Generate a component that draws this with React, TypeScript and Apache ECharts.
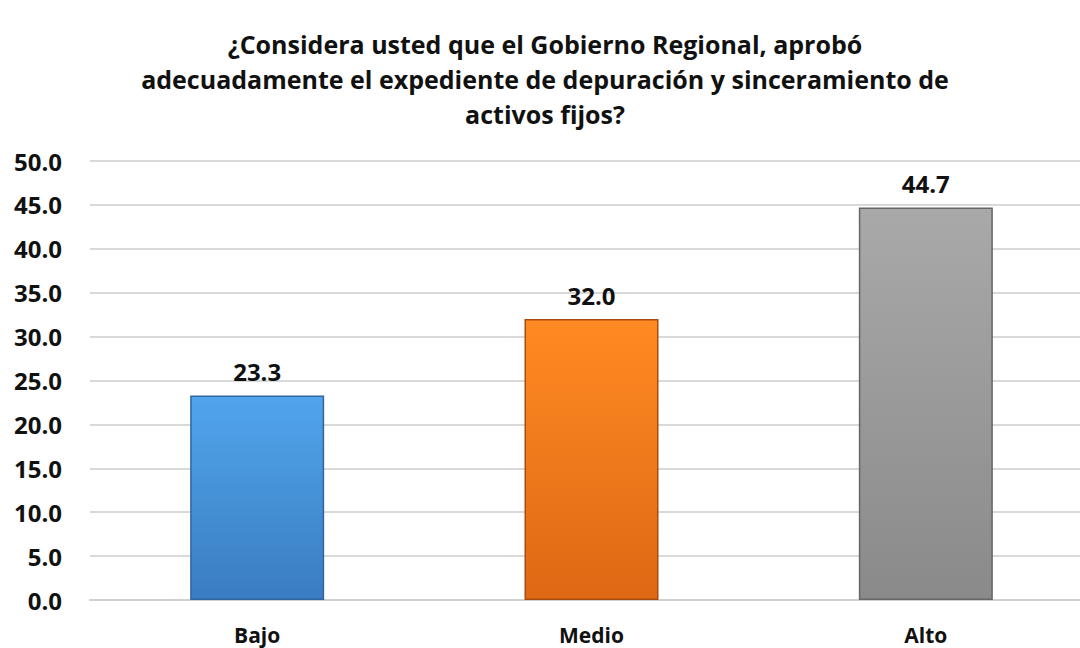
import React, { useEffect, useRef } from "react";
import * as echarts from "echarts";

const titleText =
  "¿Considera usted que el Gobierno Regional, aprobó\nadecuadamente el expediente de depuración y sinceramiento de\nactivos fijos?";
const categories = ["Bajo", "Medio", "Alto"];
const values = [23.3, 32.0, 44.7];
const barColors = [
  { top: "#51a5ec", bottom: "#3a7cc1", edge: "#2f669f" },
  { top: "#ff8a22", bottom: "#de6814", edge: "#a94c0c" },
  { top: "#a9a9a9", bottom: "#8a8a8a", edge: "#666666" },
];
const yTicks = { min: 0, max: 50, interval: 5 };

export default function App() {
  const ref = useRef<HTMLDivElement>(null);
  useEffect(() => {
    if (!ref.current) return;
    const chart = echarts.init(ref.current, null, { renderer: "svg" });
    const font = "'Open Sans', 'Noto Sans', sans-serif";
    chart.setOption({
      animation: false,
      backgroundColor: "#ffffff",
      title: {
        text: titleText,
        left: 540,
        textAlign: "center",
        top: 21,
        textStyle: {
          fontFamily: font,
          fontWeight: "bold",
          fontSize: 25,
          lineHeight: 35,
          color: "#111111",
        },
      },
      grid: { left: 90, top: 161, width: 1003, height: 439, containLabel: false },
      xAxis: {
        type: "category",
        data: categories,
        axisLine: { lineStyle: { color: "#d0d0d0", width: 2 } },
        axisTick: { show: false },
        axisLabel: {
          margin: 24,
          fontFamily: font,
          fontWeight: "bold",
          fontSize: 21,
          lineHeight: 21,
          color: "#111111",
        },
      },
      yAxis: {
        type: "value",
        min: yTicks.min,
        max: yTicks.max,
        interval: yTicks.interval,
        axisLine: { show: false },
        axisTick: { show: false },
        splitLine: { lineStyle: { color: "#d9d9d9", width: 2 } },
        axisLabel: {
          margin: 28,
          formatter: (v: number) => v.toFixed(1),
          fontFamily: font,
          fontWeight: "bold",
          fontSize: 24,
          color: "#111111",
        },
      },
      series: [
        {
          type: "bar",
          barWidth: 134,
          data: values.map((v, i) => ({
            value: v,
            itemStyle: {
              color: new echarts.graphic.LinearGradient(0, 0, 0, 1, [
                { offset: 0, color: barColors[i].top },
                { offset: 1, color: barColors[i].bottom },
              ]),
              borderColor: barColors[i].edge,
              borderWidth: 1.5,
            },
          })),
          label: {
            show: true,
            position: "top",
            distance: 12,
            formatter: (p: any) => Number(p.value).toFixed(1),
            fontFamily: font,
            fontWeight: "bold",
            fontSize: 24,
            color: "#111111",
          },
        },
      ],
    });
    return () => chart.dispose();
  }, []);
  return (
    <div
      style={{
        position: "fixed",
        left: 0,
        top: 0,
        width: 1080,
        height: 648,
        overflow: "hidden",
        background: "#ffffff",
      }}
    >
      <div ref={ref} style={{ width: 1100, height: 648 }} />
    </div>
  );
}
